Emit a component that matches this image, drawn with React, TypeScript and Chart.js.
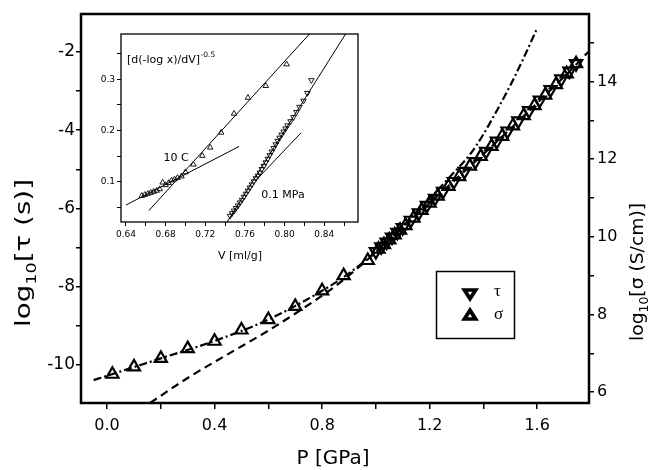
import React, { useEffect, useRef } from 'react';
import { Chart, registerables } from 'chart.js';

Chart.register(...registerables);

const SANS = '"DejaVu Sans", sans-serif';
const SERIF = '"Liberation Serif", "DejaVu Serif", serif';

// ---------------- main panel data ----------------
// sigma (up triangles), right axis log10[sigma (S/cm)]
const P_SIGMA = [0.02, 0.10, 0.20, 0.30, 0.40, 0.50, 0.60, 0.70, 0.80, 0.88, 0.97, 1.01, 1.03, 1.05, 1.07, 1.09, 1.11, 1.14, 1.17, 1.20, 1.23, 1.27, 1.31, 1.35, 1.39, 1.43, 1.47, 1.51, 1.55, 1.59, 1.63, 1.67, 1.71, 1.745];
const LOG_SIGMA = [6.46, 6.65, 6.87, 7.12, 7.31, 7.60, 7.87, 8.21, 8.61, 9.00, 9.39, 9.68, 9.80, 9.92, 10.05, 10.17, 10.29, 10.48, 10.68, 10.87, 11.05, 11.30, 11.55, 11.82, 12.07, 12.33, 12.59, 12.86, 13.12, 13.38, 13.65, 13.92, 14.20, 14.46];
// tau (down triangles), left axis log10[tau (s)]
const P_TAU = [1.00, 1.02, 1.04, 1.06, 1.08, 1.10, 1.13, 1.16, 1.19, 1.22, 1.25, 1.29, 1.33, 1.37, 1.41, 1.45, 1.49, 1.53, 1.57, 1.61, 1.65, 1.69, 1.72, 1.745];
const LOG_TAU = [-7.10, -6.98, -6.86, -6.73, -6.61, -6.49, -6.30, -6.11, -5.92, -5.74, -5.56, -5.31, -5.05, -4.80, -4.54, -4.28, -4.02, -3.76, -3.50, -3.23, -2.96, -2.69, -2.49, -2.30];
// fit curves
const P_FIT_SIGMA = [-0.05, 0.0, 0.2, 0.4, 0.6, 0.8, 0.9, 1.0, 1.1, 1.2, 1.28, 1.35, 1.40, 1.45, 1.50, 1.55, 1.60];
const LOG_FIT_SIGMA = [6.31, 6.42, 6.87, 7.32, 7.87, 8.61, 9.06, 9.62, 10.27, 10.98, 11.58, 12.12, 12.64, 13.25, 13.90, 14.61, 15.37];
const P_FIT_TAU = [0.16, 0.30, 0.45, 0.60, 0.73, 0.85, 0.95, 1.05, 1.15, 1.25, 1.35, 1.45, 1.55, 1.65, 1.72, 1.79];
const LOG_FIT_TAU = [-10.97, -10.33, -9.72, -9.12, -8.55, -7.98, -7.42, -6.80, -6.17, -5.55, -4.92, -4.29, -3.64, -2.97, -2.50, -2.00];

const X_TICKS = [0, 0.2, 0.4, 0.6, 0.8, 1.0, 1.2, 1.4, 1.6];
const X_TICK_LABELS = ['0.0', '', '0.4', '', '0.8', '', '1.2', '', '1.6'];
const TAU_TICKS = [-10, -9, -8, -7, -6, -5, -4, -3, -2];
const TAU_TICK_LABELS = ['-10', '', '-8', '', '-6', '', '-4', '', '-2'];
const SIGMA_TICKS = [6, 7, 8, 9, 10, 11, 12, 13, 14, 15];
const SIGMA_TICK_LABELS = ['6', '', '8', '', '10', '', '12', '', '14', ''];

const X_TITLE = 'P [GPa]';
const LEFT_TITLE = [{ t: 'log', s: 22, dy: 0 }, { t: '10', s: 14, dy: 6 }, { t: '[τ (s)]', s: 22, dy: 0 }];
const RIGHT_TITLE = [{ t: 'log', s: 18, dy: 0 }, { t: '10', s: 12, dy: 5 }, { t: '[σ (S/cm)]', s: 18, dy: 0 }];
const LEGEND_LABELS = ['τ', 'σ'];

// ---------------- inset data ----------------
const V_10C = [0.656, 0.659, 0.662, 0.665, 0.668, 0.671, 0.674, 0.677, 0.680, 0.683, 0.686, 0.689, 0.692, 0.696, 0.700, 0.708, 0.717, 0.725, 0.736, 0.749, 0.763, 0.781, 0.802];
const Y_10C = [0.073, 0.075, 0.077, 0.079, 0.081, 0.083, 0.086, 0.099, 0.094, 0.098, 0.103, 0.105, 0.108, 0.111, 0.119, 0.134, 0.151, 0.167, 0.196, 0.233, 0.264, 0.287, 0.329];
const V_01MPA = [0.745, 0.747, 0.749, 0.751, 0.753, 0.755, 0.757, 0.759, 0.761, 0.763, 0.765, 0.767, 0.769, 0.771, 0.773, 0.775, 0.777, 0.779, 0.781, 0.783, 0.785, 0.787, 0.789, 0.791, 0.793, 0.795, 0.797, 0.799, 0.801, 0.803, 0.806, 0.809, 0.812, 0.815, 0.819, 0.823, 0.827];
const Y_01MPA = [0.034, 0.039, 0.044, 0.049, 0.054, 0.060, 0.065, 0.071, 0.077, 0.083, 0.089, 0.095, 0.101, 0.107, 0.112, 0.118, 0.125, 0.131, 0.138, 0.145, 0.152, 0.159, 0.166, 0.173, 0.180, 0.186, 0.192, 0.198, 0.204, 0.210, 0.218, 0.226, 0.236, 0.246, 0.258, 0.273, 0.298];
const LINE_10C_LOW_V = [0.6400, 0.7540];
const LINE_10C_LOW_Y = [0.055, 0.169];
const LINE_10C_HIGH_V = [0.663, 0.825];
const LINE_10C_HIGH_Y = [0.044, 0.388];
const LINE_MPA_HIGH_V = [0.742, 0.8615];
const LINE_MPA_HIGH_Y = [0.022, 0.388];
const LINE_MPA_LOW_V = [0.771, 0.8165];
const LINE_MPA_LOW_Y = [0.103, 0.1955];

const INSET_X_TICKS = [0.64, 0.66, 0.68, 0.70, 0.72, 0.74, 0.76, 0.78, 0.80, 0.82, 0.84, 0.86];
const INSET_X_LABELS = ['0.64', '', '0.68', '', '0.72', '', '0.76', '', '0.80', '', '0.84', ''];
const INSET_Y_TICKS = [0.05, 0.10, 0.15, 0.20, 0.25, 0.30, 0.35];
const INSET_Y_LABELS = ['', '0.1', '', '0.2', '', '0.3', ''];
const INSET_Y_TITLE = '[d(-log x)/dV]';
const INSET_Y_TITLE_SUP = '-0.5';
const INSET_X_TITLE = 'V [ml/g]';
const LABEL_10C = '10 C';
const LABEL_01MPA = '0.1 MPa';

function pts(xs: number[], ys: number[]) {
  return xs.map((x, i) => ({ x, y: ys[i] }));
}

function drawRich(ctx: CanvasRenderingContext2D, parts: { t: string; s: number; dy: number }[], cx: number, cy: number, rot: number, targetLen: number) {
  ctx.save();
  ctx.translate(cx, cy);
  ctx.rotate(rot);
  let total = 0;
  const widths = parts.map((p) => {
    ctx.font = `${p.s}px ${SANS}`;
    const w = ctx.measureText(p.t).width;
    total += w;
    return w;
  });
  const sx = targetLen ? targetLen / total : 1;
  ctx.scale(sx, 1);
  let x = -total / 2;
  ctx.textBaseline = 'alphabetic';
  ctx.textAlign = 'left';
  ctx.fillStyle = '#000';
  const base = parts[0].s * 0.36;
  parts.forEach((p, i) => {
    ctx.font = `${p.s}px ${SANS}`;
    ctx.fillText(p.t, x, base + p.dy);
    x += widths[i];
  });
  ctx.restore();
}

function triPath(ctx: CanvasRenderingContext2D, cx: number, cy: number, hw: number, h: number, down: boolean) {
  ctx.beginPath();
  if (down) {
    ctx.moveTo(cx - hw, cy - h / 3);
    ctx.lineTo(cx + hw, cy - h / 3);
    ctx.lineTo(cx, cy + (2 * h) / 3);
  } else {
    ctx.moveTo(cx - hw, cy + h / 3);
    ctx.lineTo(cx + hw, cy + h / 3);
    ctx.lineTo(cx, cy - (2 * h) / 3);
  }
  ctx.closePath();
}

const mainDecor = {
  id: 'mainDecor',
  afterDraw(chart: any) {
    const { ctx, chartArea: a } = chart;
    ctx.save();
    ctx.strokeStyle = '#000';
    ctx.lineWidth = 2.5;
    ctx.strokeRect(a.left, a.top, a.right - a.left, a.bottom - a.top);
    ctx.fillStyle = '#000';
    ctx.font = `20px ${SANS}`;
    ctx.textAlign = 'center';
    ctx.textBaseline = 'middle';
    ctx.fillText(X_TITLE, 333, 459);
    drawRich(ctx, LEFT_TITLE, 22, 253, -Math.PI / 2, 148);
    drawRich(ctx, RIGHT_TITLE, 637, 272, -Math.PI / 2, 138);
    // legend
    ctx.lineWidth = 1.5;
    ctx.strokeRect(436.5, 271.5, 78, 67);
    const rows = [{ y: 293, down: true }, { y: 316, down: false }];
    rows.forEach((r, i) => {
      triPath(ctx, 470, r.y, 9, 14, r.down);
      ctx.fillStyle = '#000';
      ctx.fill();
      triPath(ctx, 470, r.y, 2.2, 3.4, r.down);
      ctx.fillStyle = '#fff';
      ctx.fill();
      ctx.fillStyle = '#000';
      ctx.font = `17px ${SERIF}`;
      ctx.textAlign = 'left';
      ctx.textBaseline = 'middle';
      ctx.fillText(LEGEND_LABELS[i], 494, r.y - 1);
    });
    ctx.restore();
  },
};

const insetDecor = {
  id: 'insetDecor',
  beforeDraw(chart: any) {
    const { ctx, chartArea: a } = chart;
    ctx.save();
    ctx.fillStyle = '#fff';
    ctx.fillRect(a.left, a.top, a.right - a.left, a.bottom - a.top);
    ctx.restore();
  },
  afterDraw(chart: any) {
    const { ctx, chartArea: a } = chart;
    ctx.save();
    ctx.strokeStyle = '#000';
    ctx.lineWidth = 1.3;
    ctx.strokeRect(a.left, a.top, a.right - a.left, a.bottom - a.top);
    ctx.fillStyle = '#000';
    ctx.textBaseline = 'alphabetic';
    ctx.textAlign = 'left';
    ctx.font = `11px ${SANS}`;
    ctx.fillText(INSET_Y_TITLE, 37, 38);
    const w = ctx.measureText(INSET_Y_TITLE).width;
    ctx.font = `7.5px ${SANS}`;
    ctx.fillText(INSET_Y_TITLE_SUP, 37 + w + 0.5, 32);
    ctx.textAlign = 'center';
    ctx.textBaseline = 'middle';
    ctx.font = `11px ${SANS}`;
    ctx.fillText(LABEL_10C, 86, 133);
    ctx.fillText(LABEL_01MPA, 193, 170);
    ctx.fillText(INSET_X_TITLE, 150, 231);
    ctx.restore();
  },
};

export default function App() {
  const mainRef = useRef<HTMLCanvasElement>(null);
  const insetRef = useRef<HTMLCanvasElement>(null);

  useEffect(() => {
    const tickFont = { family: SANS, size: 16 };
    const grid = { display: true, drawOnChartArea: false, drawTicks: true, tickLength: 5, color: '#000', lineWidth: 1.5 };
    const main = new Chart(mainRef.current as HTMLCanvasElement, {
      type: 'scatter',
      data: {
        datasets: [
          {
            label: 'sigma fit',
            data: pts(P_FIT_SIGMA, LOG_FIT_SIGMA),
            yAxisID: 'y1',
            showLine: true,
            pointRadius: 0,
            borderColor: '#000',
            borderWidth: 2.2,
            borderDash: [8, 3, 2, 3],
            cubicInterpolationMode: 'monotone',
          },
          {
            label: 'tau fit',
            data: pts(P_FIT_TAU, LOG_FIT_TAU),
            yAxisID: 'y',
            showLine: true,
            pointRadius: 0,
            borderColor: '#000',
            borderWidth: 2.2,
            borderDash: [8, 5],
            cubicInterpolationMode: 'monotone',
          },
          {
            label: 'τ',
            data: pts(P_TAU, LOG_TAU),
            yAxisID: 'y',
            pointStyle: 'triangle',
            rotation: 180,
            pointRadius: 7,
            pointBorderWidth: 2.2,
            borderColor: '#000',
            backgroundColor: 'rgba(0,0,0,0)',
          },
          {
            label: 'σ',
            data: pts(P_SIGMA, LOG_SIGMA),
            yAxisID: 'y1',
            pointStyle: 'triangle',
            pointRadius: 7,
            pointBorderWidth: 2.2,
            borderColor: '#000',
            backgroundColor: 'rgba(0,0,0,0)',
          },
        ],
      } as any,
      options: {
        animation: false,
        responsive: false,
        devicePixelRatio: 1,
        layout: { padding: { top: 14, left: 0, right: 0, bottom: 0 } },
        plugins: { legend: { display: false }, tooltip: { enabled: false } },
        scales: {
          x: {
            type: 'linear',
            position: 'bottom',
            min: -0.097,
            max: 1.793,
            grid: { ...grid, tickLength: 6 },
            border: { display: false },
            afterBuildTicks: (s: any) => { s.ticks = X_TICKS.map((v) => ({ value: v })); },
            afterFit: (s: any) => { s.height = 67; },
            ticks: { font: tickFont, color: '#000', padding: 7, maxRotation: 0, autoSkip: false, callback: (_v: any, i: number) => X_TICK_LABELS[i] },
          },
          y: {
            type: 'linear',
            position: 'left',
            min: -10.97,
            max: -1.03,
            grid,
            border: { display: false },
            afterBuildTicks: (s: any) => { s.ticks = TAU_TICKS.map((v) => ({ value: v })); },
            afterFit: (s: any) => { s.width = 81; },
            ticks: { font: { family: SANS, size: 17 }, color: '#000', padding: 1, autoSkip: false, callback: (_v: any, i: number) => TAU_TICK_LABELS[i] },
          },
          y1: {
            type: 'linear',
            position: 'right',
            min: 5.72,
            max: 15.74,
            grid,
            border: { display: false },
            afterBuildTicks: (s: any) => { s.ticks = SIGMA_TICKS.map((v) => ({ value: v })); },
            afterFit: (s: any) => { s.width = 62; },
            ticks: { font: tickFont, color: '#000', padding: 3, autoSkip: false, callback: (_v: any, i: number) => SIGMA_TICK_LABELS[i] },
          },
        },
      } as any,
      plugins: [mainDecor],
    });

    const iGrid = { display: true, drawOnChartArea: false, drawTicks: true, tickLength: 4, color: '#000', lineWidth: 1 };
    const iFont = { family: SANS, size: 9 };
    const thin = { showLine: true, pointRadius: 0, borderColor: '#000', borderWidth: 1 };
    const inset = new Chart(insetRef.current as HTMLCanvasElement, {
      type: 'scatter',
      data: {
        datasets: [
          { label: '10C low', data: pts(LINE_10C_LOW_V, LINE_10C_LOW_Y), ...thin },
          { label: '10C high', data: pts(LINE_10C_HIGH_V, LINE_10C_HIGH_Y), ...thin },
          { label: 'MPa high', data: pts(LINE_MPA_HIGH_V, LINE_MPA_HIGH_Y), ...thin },
          { label: 'MPa low', data: pts(LINE_MPA_LOW_V, LINE_MPA_LOW_Y), ...thin },
          {
            label: '10 C',
            data: pts(V_10C, Y_10C),
            pointStyle: 'triangle',
            pointRadius: 3.2,
            pointBorderWidth: 0.9,
            borderColor: '#000',
            backgroundColor: 'rgba(0,0,0,0)',
          },
          {
            label: '0.1 MPa',
            data: pts(V_01MPA, Y_01MPA),
            pointStyle: 'triangle',
            rotation: 180,
            pointRadius: 3.2,
            pointBorderWidth: 0.9,
            borderColor: '#000',
            backgroundColor: 'rgba(0,0,0,0)',
          },
        ],
      } as any,
      options: {
        animation: false,
        responsive: false,
        devicePixelRatio: 1,
        layout: { padding: { top: 9, right: 12, left: 0, bottom: 0 } },
        plugins: { legend: { display: false }, tooltip: { enabled: false } },
        scales: {
          x: {
            type: 'linear',
            min: 0.635,
            max: 0.874,
            grid: iGrid,
            border: { display: false },
            afterBuildTicks: (s: any) => { s.ticks = INSET_X_TICKS.map((v) => ({ value: v })); },
            afterFit: (s: any) => { s.height = 43; },
            ticks: { font: iFont, color: '#000', padding: 3, maxRotation: 0, autoSkip: false, callback: (_v: any, i: number) => INSET_X_LABELS[i] },
          },
          y: {
            type: 'linear',
            min: 0.022,
            max: 0.388,
            grid: iGrid,
            border: { display: false },
            afterBuildTicks: (s: any) => { s.ticks = INSET_Y_TICKS.map((v) => ({ value: v })); },
            afterFit: (s: any) => { s.width = 31; },
            ticks: { font: iFont, color: '#000', padding: 2, autoSkip: false, callback: (_v: any, i: number) => INSET_Y_LABELS[i] },
          },
        },
      } as any,
      plugins: [insetDecor],
    });

    return () => {
      main.destroy();
      inset.destroy();
    };
  }, []);

  return (
    <div style={{ position: 'absolute', left: 0, top: 0, width: 651, height: 470, background: '#fff' }}>
      <canvas ref={mainRef} width={651} height={470} style={{ position: 'absolute', left: 0, top: 0, width: 651, height: 470 }} />
      <canvas ref={insetRef} width={280} height={240} style={{ position: 'absolute', left: 90, top: 25, width: 280, height: 240 }} />
    </div>
  );
}
